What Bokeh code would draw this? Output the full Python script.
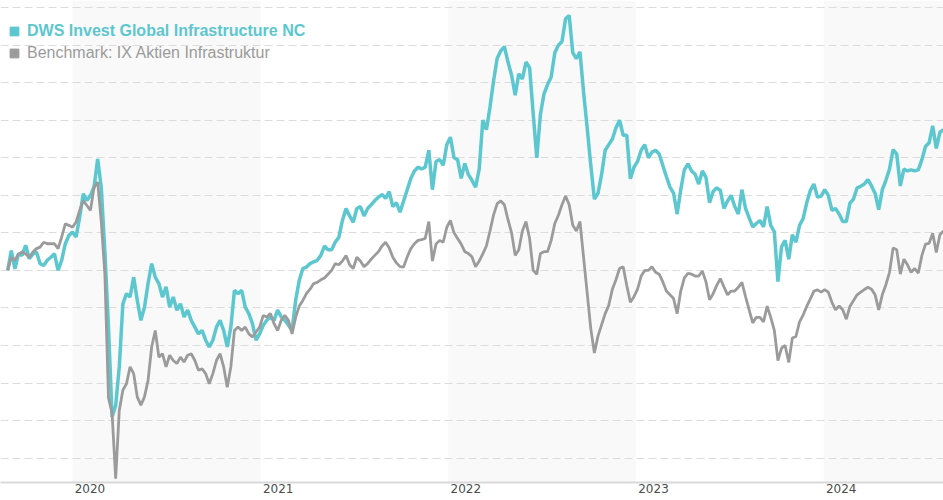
import pandas as pd
from bokeh.plotting import figure
from bokeh.models import (Range1d, BoxAnnotation, FixedTicker, DatetimeTickFormatter,
                          Legend, LegendItem, ColumnDataSource)
from bokeh.embed import file_html
from bokeh.resources import INLINE

# ---------------- data (weekly, indexed) ----------------
start_date = "2019-08-28"
fund = [
    100.0, 105.3, 100.4, 104.4, 104.0, 106.7, 103.1, 104.4, 104.9, 101.8,
    101.3, 102.7, 103.5, 104.4, 100.0, 102.7, 107.1, 109.3, 110.2, 108.9,
    114.2, 120.4, 118.6, 120.0, 122.2, 129.7, 122.0, 105.0, 85.0, 61.0,
    64.0, 74.3, 91.1, 93.8, 92.9, 98.2, 92.0, 86.7, 90.2, 96.5,
    101.8, 98.2, 96.5, 92.9, 95.6, 90.2, 92.9, 89.4, 91.1, 87.6,
    89.4, 86.7, 84.9, 83.1, 84.0, 81.4, 79.6, 81.4, 84.9, 86.7,
    84.0, 79.6, 84.9, 94.7, 93.8, 94.7, 90.2, 88.5, 85.8, 81.4,
    83.1, 85.4, 86.7, 87.6, 86.7, 89.4, 87.6, 86.7, 85.4, 84.0,
    92.0, 97.3, 100.5, 100.9, 101.8, 102.3, 102.7, 104.0, 106.5, 105.5,
    105.5, 107.5, 108.8, 113.3, 116.5, 114.5, 112.8, 116.5, 117.0, 114.5,
    116.5, 117.5, 118.6, 119.5, 120.2, 119.2, 121.0, 117.0, 118.0, 115.5,
    118.5, 121.5, 124.5, 126.5, 127.5, 127.0, 127.5, 132.0, 121.5, 129.0,
    129.5, 128.0, 133.5, 135.5, 130.0, 129.5, 124.5, 128.5, 125.5, 124.0,
    122.2, 127.0, 140.0, 137.5, 143.5, 150.5, 156.5, 158.5, 159.6, 155.5,
    152.0, 146.7, 152.4, 151.0, 155.5, 154.0, 141.8, 130.0, 141.5, 147.0,
    149.5, 151.5, 158.0, 160.0, 161.0, 167.0, 167.9, 158.0, 156.4, 158.2,
    147.5, 138.0, 128.0, 119.0, 120.5, 125.5, 132.0, 133.5, 135.0, 138.0,
    140.0, 136.0, 136.0, 124.4, 127.5, 129.0, 132.0, 133.5, 130.0, 131.5,
    132.0, 131.0, 128.0, 125.0, 122.2, 120.6, 115.0, 121.5, 126.8, 128.4,
    126.5, 125.6, 123.0, 126.5, 124.8, 118.0, 121.0, 122.0, 121.3, 116.5,
    118.5, 120.0, 117.0, 115.0, 121.5, 116.5, 114.0, 111.6, 112.5, 113.3,
    111.6, 117.0, 112.0, 110.3, 97.0, 106.3, 108.0, 103.0, 109.5, 107.5,
    112.0, 113.8, 118.0, 121.3, 123.0, 119.5, 119.8, 121.5, 120.0, 116.0,
    116.5, 115.0, 113.0, 113.0, 117.9, 119.0, 122.0, 122.4, 123.0, 124.2,
    122.5, 120.5, 116.2, 121.5, 124.0, 127.0, 132.2, 131.0, 122.5, 127.0,
    126.5, 126.8, 126.5, 126.8, 129.5, 133.0, 134.0, 138.5, 132.5, 136.8, 137.5,
]
benchmark = [
    100.0, 103.5, 102.7, 104.4, 104.9, 104.4, 103.5, 104.9, 105.8, 106.2,
    107.5, 107.1, 107.1, 107.1, 105.8, 108.9, 112.4, 112.0, 111.5, 112.9,
    116.0, 118.6, 117.3, 116.0, 122.2, 123.5, 113.0, 99.0, 66.0, 62.0,
    44.5, 62.7, 68.1, 69.8, 74.3, 72.5, 66.3, 64.1, 66.3, 70.7,
    79.6, 84.0, 76.9, 77.8, 74.3, 77.4, 76.0, 75.2, 76.9, 75.6,
    77.4, 77.8, 76.0, 73.4, 73.8, 72.5, 69.8, 72.5, 76.0, 77.8,
    74.3, 68.9, 74.3, 84.0, 84.9, 84.0, 84.9, 83.1, 82.3, 83.6,
    84.9, 88.0, 87.6, 88.5, 85.8, 84.0, 86.7, 88.0, 86.7, 83.1,
    87.5, 90.5, 92.0, 93.8, 95.0, 96.5, 96.8, 97.5, 98.0, 99.0,
    100.0, 101.8, 101.5, 102.5, 104.0, 101.5, 100.5, 103.5, 102.5, 101.0,
    101.8, 103.0, 104.0, 105.0, 106.5, 107.5, 106.0, 103.5, 102.0, 101.0,
    100.9, 103.6, 105.8, 107.1, 108.0, 108.2, 108.5, 113.0, 102.5, 107.0,
    108.0, 107.5, 111.5, 113.3, 110.0, 108.5, 107.0, 105.0, 104.5, 103.6,
    101.0, 102.5, 104.4, 106.5, 110.5, 114.8, 117.8, 118.5, 117.5, 113.5,
    110.0, 104.0, 105.5, 110.5, 113.0, 108.5, 100.0, 99.0, 104.5, 105.0,
    105.0, 108.0, 112.5, 114.7, 117.5, 119.8, 117.5, 112.0, 110.5, 113.0,
    103.5, 94.0, 84.5, 78.0, 82.5, 85.5, 88.5, 90.7, 95.0, 97.5,
    100.5, 101.0, 96.0, 91.5, 93.0, 95.0, 98.5, 100.0, 100.0, 101.0,
    99.5, 99.0, 97.0, 94.5, 93.5, 92.5, 88.5, 94.5, 98.0, 99.2,
    99.0, 98.5, 98.5, 99.8, 97.0, 92.2, 93.8, 96.0, 97.8, 95.6,
    93.5, 94.5, 94.5, 95.5, 96.8, 93.0, 89.5, 86.0, 87.5, 87.5,
    86.3, 90.5, 87.5, 84.0, 76.0, 79.3, 80.0, 75.5, 82.0, 82.4,
    86.3, 88.1, 90.4, 92.4, 94.5, 94.8, 94.2, 94.9, 94.2, 91.5,
    89.5, 90.5, 89.5, 87.0, 90.4, 92.0, 93.5, 94.2, 94.9, 95.5,
    95.0, 93.5, 89.5, 93.5, 96.2, 99.5, 106.0, 105.5, 99.0, 103.0,
    101.5, 99.5, 100.5, 99.3, 104.0, 107.0, 107.2, 109.9, 104.8, 109.5, 110.5,
]
fund_name = "DWS Invest Global Infrastructure NC"
bench_name = "Benchmark: IX Aktien Infrastruktur"
years = [2020, 2021, 2022, 2023, 2024]
shaded_years = [2020, 2022, 2024]
grid_values = [50, 60, 70, 80, 90, 100, 110, 120, 130, 140, 150, 160, 170]

BLUE = "#5cc7cf"
GREY = "#9b9b9b"

dates = pd.date_range(start_date, periods=len(fund), freq="7D")
src = ColumnDataSource(dict(date=dates, fund=fund, bench=benchmark))

x_start = pd.Timestamp("2019-08-14")
x_end = pd.Timestamp("2024-08-21")


def ms(ts):
    return pd.Timestamp(ts).value / 1e6


p = figure(frame_width=943, frame_height=482, x_axis_type="datetime",
           output_backend="svg", toolbar_location=None, min_border=0,
           x_range=Range1d(x_start, x_end), y_range=Range1d(43.5, 171.9))
p.outline_line_color = None
p.background_fill_color = "white"
p.border_fill_color = "white"

# alternating year bands
for y in shaded_years:
    right = min(ms(f"{y + 1}-01-01"), ms(x_end))
    p.add_layout(BoxAnnotation(left=ms(f"{y}-01-01"), right=right,
                               fill_color="#f9f9f9", fill_alpha=1.0,
                               line_alpha=0, level="image"))

# grid
p.xgrid.visible = False
p.ygrid.ticker = FixedTicker(ticks=grid_values)
p.ygrid.grid_line_color = "#dcdcdc"
p.ygrid.grid_line_dash = "8 4"
p.ygrid.grid_line_width = 1
p.yaxis.visible = False

# x axis
p.xaxis.ticker = FixedTicker(ticks=[ms(f"{y}-02-04") for y in years])
p.xaxis.formatter = DatetimeTickFormatter(years="%Y", months="%Y", days="%Y")
p.xaxis.major_tick_line_color = None
p.xaxis.minor_tick_line_color = None
p.xaxis.major_tick_out = 0
p.xaxis.axis_line_color = "#d9d9d9"
p.xaxis.axis_line_width = 2
p.xaxis.major_label_standoff = 1
p.xaxis.major_label_text_font = "DejaVu Sans"
p.xaxis.major_label_text_font_size = "12px"
p.xaxis.major_label_text_color = "#4d4d4d"

# lines
p.line("date", "fund", source=src, line_color=BLUE, line_width=3.5)
p.line("date", "bench", source=src, line_color=GREY, line_width=2.8)

# legend swatches: hidden square-marker views of each series
sw1 = p.scatter("date", "fund", source=src, marker="square", color=BLUE, visible=False)
sw2 = p.scatter("date", "bench", source=src, marker="square", color=GREY, visible=False)

common = dict(padding=0, margin=0, spacing=0, border_line_color=None,
              background_fill_alpha=0, glyph_width=22, glyph_height=22,
              label_standoff=2, label_text_font="Liberation Sans",
              label_text_font_size="16px", label_height=22,
              inactive_fill_alpha=0.0, click_policy="none")
leg1 = Legend(items=[LegendItem(label=fund_name, renderers=[sw1])],
              location=(3, 440), label_text_color=BLUE,
              label_text_font_style="bold", **common)
leg2 = Legend(items=[LegendItem(label=bench_name, renderers=[sw2])],
              location=(3, 418), label_text_color=GREY, **common)
p.add_layout(leg1)
p.add_layout(leg2)

open("out.html", "w").write(file_html(p, INLINE))
